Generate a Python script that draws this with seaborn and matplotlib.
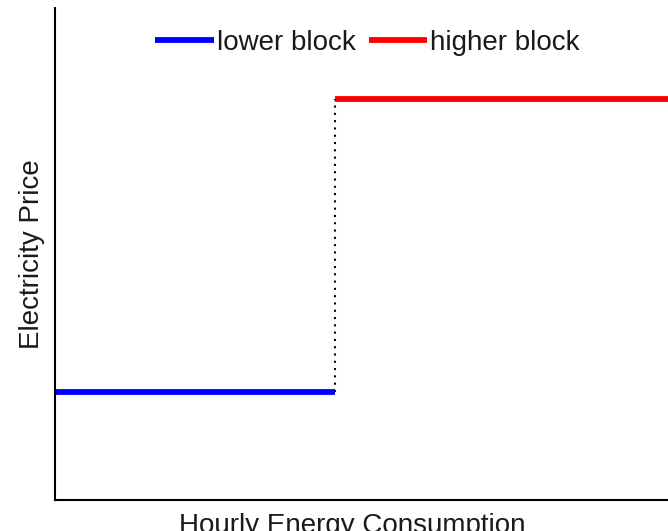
import matplotlib
matplotlib.use("Agg")
import matplotlib.pyplot as plt
import seaborn as sns
import pandas as pd

# Two-block tariff: price per block over hourly consumption
blocks = ["lower block", "higher block"]
block_start = [0.0, 4.57]
block_end = [4.57, 10.0]
block_price = [2.2, 8.15]
colors = ["#0000ff", "#ff0000"]

rows = []
for name, s, e, p in zip(blocks, block_start, block_end, block_price):
    rows.append({"consumption": s, "price": p, "block": name})
    rows.append({"consumption": e, "price": p, "block": name})
df = pd.DataFrame(rows)

sns.set_style("white")
plt.rcParams["font.family"] = ["Liberation Sans", "DejaVu Sans"]
plt.rcParams["lines.solid_capstyle"] = "butt"

fig = plt.figure(figsize=(6.68, 5.31), dpi=100)
ax = fig.add_axes([55 / 668, 31 / 531, 613 / 668, 492 / 531])

sns.lineplot(data=df, x="consumption", y="price", hue="block",
             palette=dict(zip(blocks, colors)), linewidth=4.2, ax=ax)

# dotted step between the two blocks
ax.vlines(block_end[0], block_price[0], block_price[1], colors="black",
          linestyles=(0, (1, 2.5)), linewidth=1.5)

ax.set_xlim(0, 10)
ax.set_ylim(0, 10)
ax.set_xticks([])
ax.set_yticks([])
sns.despine(ax=ax)
for sp in ["left", "bottom"]:
    ax.spines[sp].set_color("black")
    ax.spines[sp].set_linewidth(1.5)

# the label sits partly below the figure edge, as in the original crop
ax.set_xlabel("Hourly Energy Consumption", fontsize=20, color="#1a1a1a")
ax.xaxis.set_label_coords(0.485, -0.026, transform=ax.transAxes)
ax.xaxis.label.set_va("top")
ax.set_ylabel("Electricity Price", fontsize=20, color="#1a1a1a")
ax.yaxis.set_label_coords(-0.016, 0.5)

leg = ax.legend(loc="center", bbox_to_anchor=(0.51, 0.929), ncol=2, frameon=False,
                fontsize=20, handlelength=2.1, handletextpad=0.12, columnspacing=0.45,
                borderpad=0.1)
for t in leg.get_texts():
    t.set_color("#1a1a1a")

fig.savefig("out.png", dpi=100)
